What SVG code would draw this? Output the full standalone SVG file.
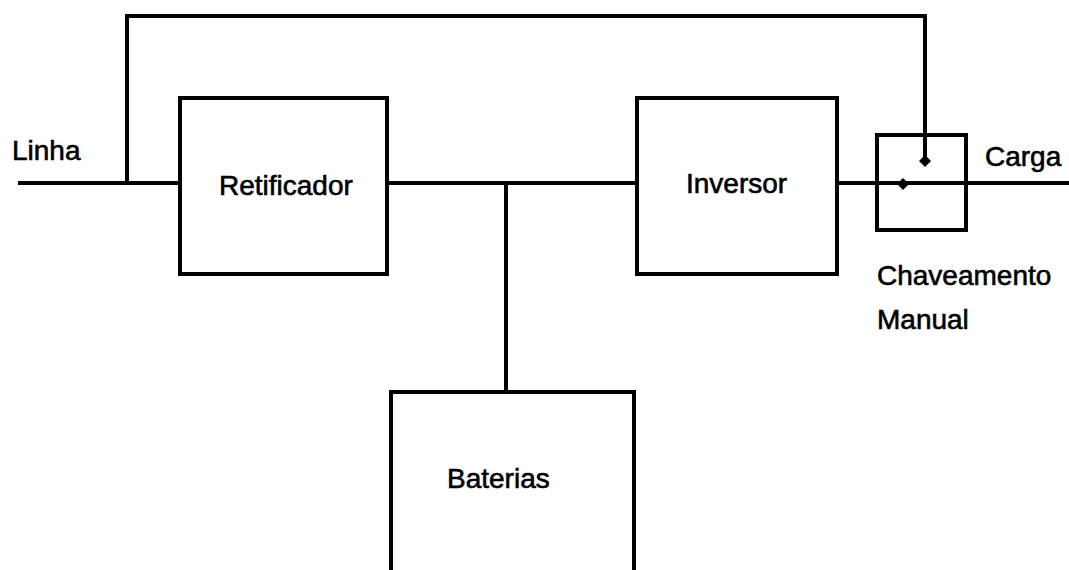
<svg xmlns="http://www.w3.org/2000/svg" width="1069" height="570" viewBox="0 0 1069 570">
<style>
.box{fill:none;stroke:#000;stroke-width:4}
.w{fill:none;stroke:#000;stroke-width:4}
text{font-family:"Liberation Sans",Arial,sans-serif;font-size:28px;fill:#000;stroke:#000;stroke-width:0.6}
</style>
<rect width="1069" height="570" fill="#fff"/>
<g id="connectors">
<polyline class="w" points="18,183 180,183"/>
<polyline class="w" points="127,183 127,16 925,16 925,161"/>
<polyline class="w" points="387,183 637,183"/>
<polyline class="w" points="506,183 506,392"/>
<polyline class="w" points="837,183 1069,183"/>
<path d="M925,155 L931,161 L925,167 L919,161 Z" fill="#000"/>
<path d="M903,178 L909,184 L903,190 L897,184 Z" fill="#000"/>
</g>
<g id="linha"><text x="12" y="160">Linha</text></g>
<g id="retificador"><rect class="box" x="180" y="98" width="207" height="176"/><text x="219" y="195">Retificador</text></g>
<g id="inversor"><rect class="box" x="637" y="98" width="200" height="176"/><text x="686" y="193">Inversor</text></g>
<g id="chaveamento"><rect class="box" x="877" y="135" width="89" height="95"/><text x="877" y="285">Chaveamento</text><text x="877" y="329">Manual</text></g>
<g id="carga"><text x="985" y="166">Carga</text></g>
<g id="baterias"><rect class="box" x="391" y="392" width="243" height="200"/><text x="447" y="488">Baterias</text></g>
</svg>
